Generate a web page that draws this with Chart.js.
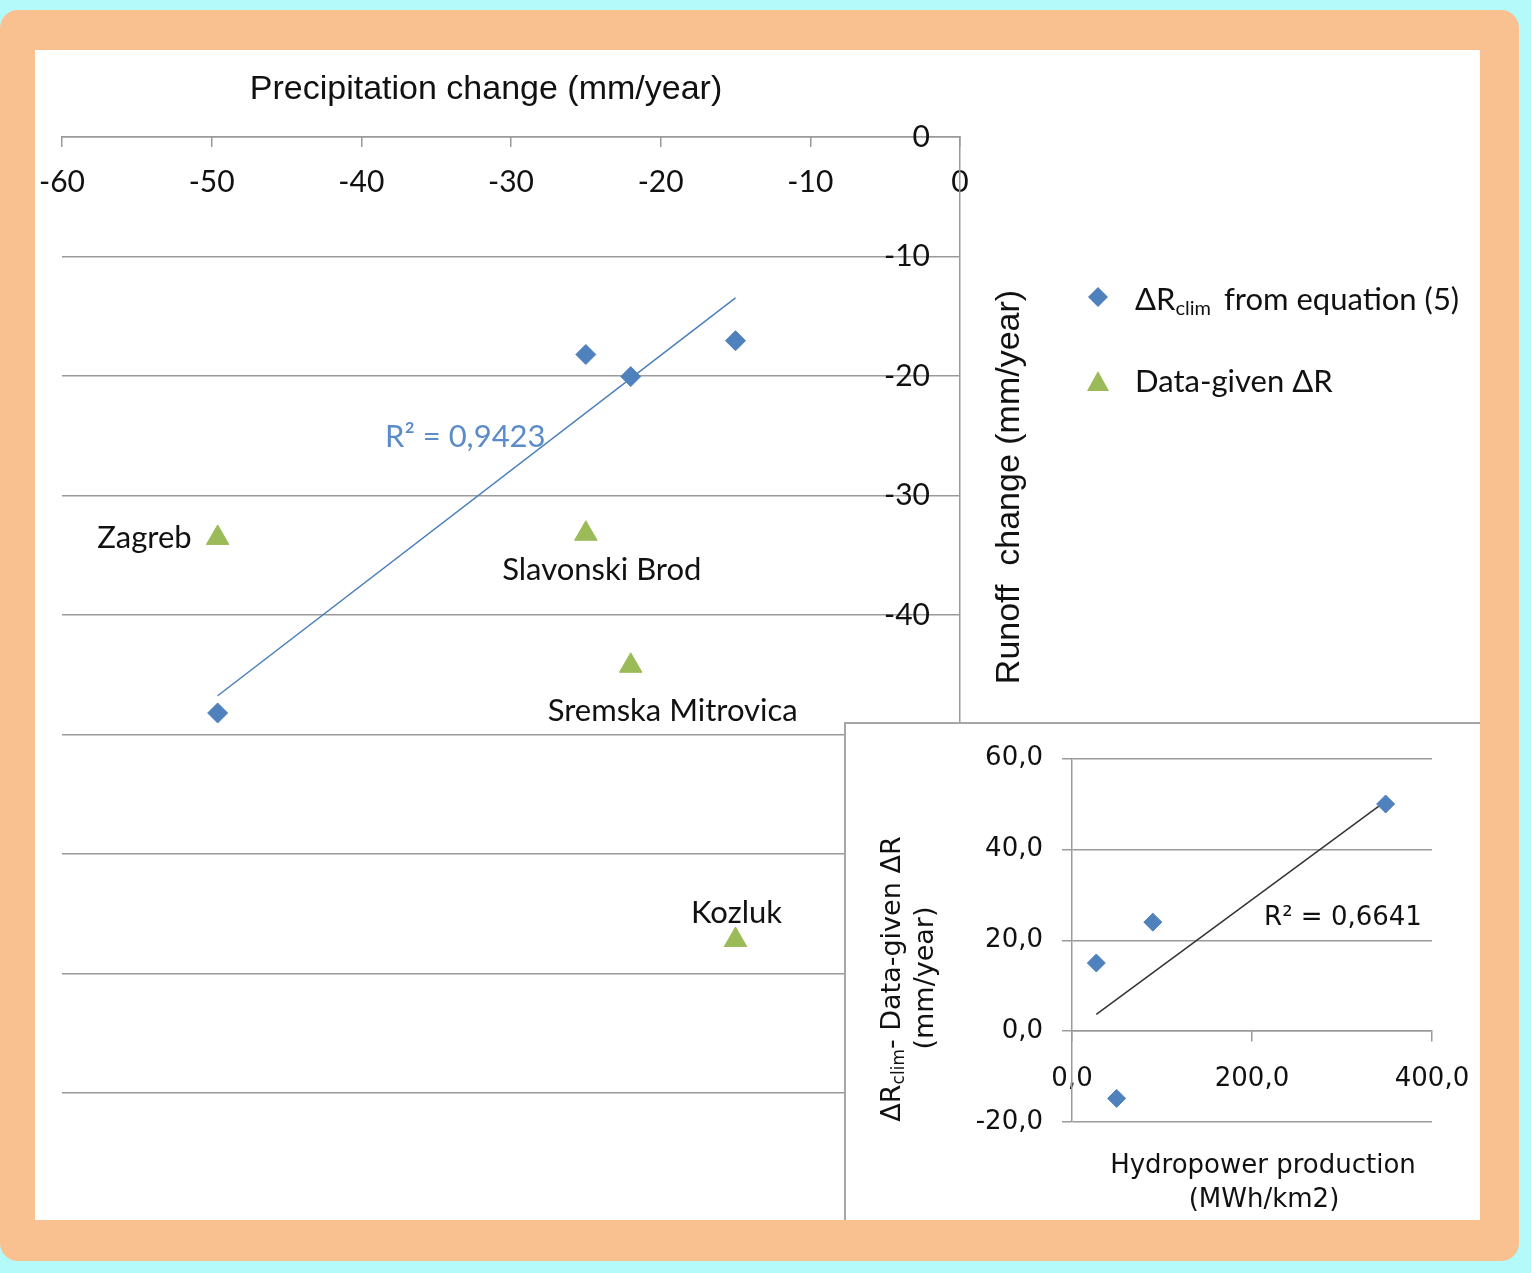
<!DOCTYPE html>
<html>
<head>
<meta charset="utf-8">
<title>Precipitation change vs runoff change</title>
<script src="https://cdn.jsdelivr.net/npm/chart.js@4.4.1/dist/chart.umd.min.js"></script>
<style>
  html, body { margin: 0; padding: 0; }
  body { width: 1531px; height: 1273px; background: #b4fafa; position: relative; overflow: hidden; }
  #frame { position: absolute; left: 0; top: 10px; width: 1519px; height: 1251px; background: #f9c190; border-radius: 18px; }
  #sheet { position: absolute; left: 35px; top: 50px; width: 1445px; height: 1170px; background: #fff; overflow: hidden; }
  #main { position: absolute; left: 0; top: 0; }
  #inset { position: absolute; left: 809px; top: 672px; width: 634px; height: 496px; background: #fff;
           border-left: 2px solid #a6a6a6; border-top: 2px solid #a6a6a6; }
  #hydro { position: absolute; left: 0; top: 0; }
</style>
</head>
<body>
<div id="frame"></div>
<div id="sheet">
  <canvas id="main" width="1445" height="1170"></canvas>
  <div id="inset"><canvas id="hydro" width="634" height="496"></canvas></div>
</div>
<script>
// stations, in the same order in every array
const cities = ['Zagreb', 'Slavonski Brod', 'Sremska Mitrovica', 'Kozluk'];
const precipChange = [-49.6, -25, -22, -15];          // mm/year
const runoffClim = [-48.2, -18.2, -20.05, -17.05];     // ΔRclim from equation (5)
const runoffData = [-33.55, -33.2, -44.25, -67.2];     // data-given ΔR

// inset: hydropower production vs ΔRclim - data-given ΔR
const hydropower = [49.6, 27.0, 89.8, 348.5];          // MWh/km2
const runoffDiff = [-14.8, 15.0, 24.0, 50.0];

const precipTicks = [-60, -50, -40, -30, -20, -10, 0];
const runoffTicks = [0, -10, -20, -30, -40, -50, -60, -70, -80];
const hydroTicks = [0, 200, 400];
const diffTicks = [-20, 0, 20, 40, 60];

const blue = '#4f81bd';
const green = '#9bbb59';
const gridGray = '#9a9a9a';
const ink = '#111111';
const calibriLike = 'Lato, "Open Sans", sans-serif';
const arialLike = '"Liberation Sans", Arial, sans-serif';
const insetFamily = '"DejaVu Sans", Verdana, sans-serif';

// least squares line over the x range of the points
function trendLine(xs, ys) {
    const n = xs.length;
    const mx = xs.reduce((a, b) => a + b, 0) / n;
    const my = ys.reduce((a, b) => a + b, 0) / n;
    let sxy = 0, sxx = 0;
    xs.forEach((x, i) => {
        sxy += (x - mx) * (ys[i] - my);
        sxx += (x - mx) * (x - mx);
    });
    const slope = sxy / sxx;
    const lo = Math.min(...xs), hi = Math.max(...xs);
    return [lo, hi].map(x => ({ x: x, y: my + slope * (x - mx) }));
}

function commaNumber(v) {
    return Number(v).toFixed(1).replace('.', ',');
}

// keep the plot area where the layout padding puts it
function noLabelPadding(s) {
    s.paddingLeft = 0;
    s.paddingRight = 0;
}

function diamond(ctx, x, y, r, color) {
    ctx.beginPath();
    ctx.moveTo(x, y - r);
    ctx.lineTo(x + r, y);
    ctx.lineTo(x, y + r);
    ctx.lineTo(x - r, y);
    ctx.closePath();
    ctx.fillStyle = color;
    ctx.fill();
}

function triangle(ctx, x, y, w, h, color) {
    ctx.beginPath();
    ctx.moveTo(x, y - h / 2);
    ctx.lineTo(x + w / 2, y + h / 2);
    ctx.lineTo(x - w / 2, y + h / 2);
    ctx.closePath();
    ctx.fillStyle = color;
    ctx.fill();
}

// where each city label sits relative to its triangle
const labelPlacement = [
    { dx: -26, dy: 0, align: 'right' },
    { dx: 16, dy: 36, align: 'center' },
    { dx: 42, dy: 45, align: 'center' },
    { dx: 1, dy: -27, align: 'center' }
];

const mainDecorations = {
    id: 'mainDecorations',
    afterDraw(chart) {
        const ctx = chart.ctx;
        const xs = chart.scales.x, ys = chart.scales.y;
        ctx.save();
        ctx.fillStyle = ink;
        ctx.textBaseline = 'middle';

        // axis titles
        ctx.font = '34px ' + arialLike;
        ctx.textAlign = 'center';
        ctx.fillText('Precipitation change (mm/year)', 451, 40);
        ctx.save();
        ctx.translate(975, 437);
        ctx.rotate(-Math.PI / 2);
        ctx.fillText('Runoff  change (mm/year)', 0, 0);
        ctx.restore();

        // city labels next to the data-given points
        ctx.font = '31px ' + calibriLike;
        cities.forEach((name, i) => {
            const p = labelPlacement[i];
            ctx.textAlign = p.align;
            ctx.fillText(name, xs.getPixelForValue(precipChange[i]) + p.dx,
                               ys.getPixelForValue(runoffData[i]) + p.dy);
        });

        // R² of the trend line
        ctx.fillStyle = '#5b8bc9';
        ctx.textAlign = 'left';
        ctx.fillText('R² = 0,9423', 350, 387);

        // legend
        diamond(ctx, 1063, 247, 10, blue);
        triangle(ctx, 1063, 331, 22, 20, green);
        ctx.fillStyle = ink;
        ctx.textBaseline = 'alphabetic';
        ctx.font = '31px ' + calibriLike;
        let tx = 1100;
        ctx.fillText('ΔR', tx, 260);
        tx += ctx.measureText('ΔR').width;
        ctx.font = '20px ' + calibriLike;
        ctx.fillText('clim', tx, 265);
        tx += ctx.measureText('clim').width + 13;
        ctx.font = '31px ' + calibriLike;
        ctx.fillText('from equation (5)', tx, 260);
        ctx.fillText('Data-given ΔR', 1100, 342);
        ctx.restore();
    }
};

const insetDecorations = {
    id: 'insetDecorations',
    afterDraw(chart) {
        const ctx = chart.ctx;
        ctx.save();
        ctx.fillStyle = ink;
        ctx.textBaseline = 'middle';
        ctx.textAlign = 'center';
        ctx.font = '26px ' + insetFamily;
        ctx.fillText('Hydropower production', 417, 442);
        ctx.fillText('(MWh/km2)', 418, 476);
        ctx.fillText('R² = 0,6641', 497, 194);

        // rotated y title, first line with subscript
        ctx.save();
        ctx.translate(47, 255);
        ctx.rotate(-Math.PI / 2);
        const big = '27px ' + insetFamily, small = '17px ' + insetFamily;
        ctx.font = big;
        const w1 = ctx.measureText('ΔR').width;
        const w3 = ctx.measureText('- Data-given ΔR').width;
        ctx.font = small;
        const w2 = ctx.measureText('clim').width;
        let tx = -(w1 + w2 + w3) / 2;
        ctx.textAlign = 'left';
        ctx.font = big;
        ctx.fillText('ΔR', tx, 0);
        tx += w1;
        ctx.font = small;
        ctx.fillText('clim', tx, 7);
        tx += w2;
        ctx.font = big;
        ctx.fillText('- Data-given ΔR', tx, 0);
        ctx.textAlign = 'center';
        ctx.fillText('(mm/year)', 1, 33);
        ctx.restore();
        ctx.restore();
    }
};

function drawCharts() {
    const mainPoints = precipChange.map((x, i) => ({ x: x, y: runoffClim[i] }));
    const dataPoints = precipChange.map((x, i) => ({ x: x, y: runoffData[i] }));

    new Chart(document.getElementById('main'), {
        type: 'scatter',
        data: {
            datasets: [
                {
                    label: 'ΔRclim from equation (5)',
                    data: mainPoints,
                    pointStyle: 'rectRot',
                    pointRadius: 10,
                    backgroundColor: blue,
                    borderColor: blue,
                    borderWidth: 1
                },
                {
                    label: 'Data-given ΔR',
                    data: dataPoints,
                    pointStyle: 'triangle',
                    pointRadius: 13,
                    backgroundColor: green,
                    borderColor: green,
                    borderWidth: 1
                },
                {
                    label: 'trend',
                    data: trendLine(precipChange, runoffClim),
                    showLine: true,
                    pointRadius: 0,
                    borderColor: '#4a7ebb',
                    borderWidth: 1.5
                }
            ]
        },
        options: {
            responsive: false,
            animation: false,
            layout: { padding: { left: 27, right: 510, top: 0, bottom: 127 } },
            plugins: { legend: { display: false }, tooltip: { enabled: false } },
            scales: {
                x: {
                    type: 'linear',
                    position: 'top',
                    min: precipTicks[0],
                    max: precipTicks[precipTicks.length - 1],
                    afterBuildTicks: s => { s.ticks = precipTicks.map(v => ({ value: v })); },
                    afterFit: s => { s.height = 87; noLabelPadding(s); },
                    ticks: { mirror: true, padding: 27, color: ink, font: { family: calibriLike, size: 30 } },
                    grid: { drawOnChartArea: false, drawTicks: true, tickLength: -10, color: gridGray, lineWidth: 1.5 },
                    border: { color: gridGray, width: 1.5 }
                },
                y: {
                    type: 'linear',
                    position: 'right',
                    min: runoffTicks[runoffTicks.length - 1],
                    max: runoffTicks[0],
                    afterBuildTicks: s => { s.ticks = runoffTicks.slice().reverse().map(v => ({ value: v })); },
                    afterFit: s => { s.width = 10; },
                    ticks: { mirror: true, padding: -30, color: ink, font: { family: calibriLike, size: 30 } },
                    grid: { drawTicks: false, color: gridGray, lineWidth: 1.5 },
                    border: { color: gridGray, width: 1.5 }
                }
            }
        },
        plugins: [mainDecorations]
    });

    new Chart(document.getElementById('hydro'), {
        type: 'scatter',
        data: {
            datasets: [
                {
                    label: 'ΔRclim - Data-given ΔR',
                    data: hydropower.map((x, i) => ({ x: x, y: runoffDiff[i] })),
                    pointStyle: 'rectRot',
                    pointRadius: 9,
                    backgroundColor: blue,
                    borderColor: blue,
                    borderWidth: 1
                },
                {
                    label: 'trend',
                    data: trendLine(hydropower, runoffDiff),
                    showLine: true,
                    pointRadius: 0,
                    borderColor: '#333333',
                    borderWidth: 1.5
                }
            ]
        },
        options: {
            responsive: false,
            animation: false,
            layout: { padding: { left: 0, right: 48, top: 33, bottom: 98 } },
            plugins: { legend: { display: false }, tooltip: { enabled: false } },
            scales: {
                x: {
                    type: 'linear',
                    position: { y: 0 },
                    min: hydroTicks[0],
                    max: hydroTicks[hydroTicks.length - 1],
                    afterBuildTicks: s => { s.ticks = hydroTicks.map(v => ({ value: v })); },
                    afterFit: s => { s.height = 0; noLabelPadding(s); },
                    ticks: { padding: 22, color: ink, font: { family: insetFamily, size: 26 }, callback: commaNumber },
                    grid: { drawOnChartArea: false, drawTicks: true, tickLength: 10, color: gridGray, lineWidth: 1.5 },
                    border: { color: gridGray, width: 1.5 }
                },
                y: {
                    type: 'linear',
                    position: 'left',
                    min: diffTicks[0],
                    max: diffTicks[diffTicks.length - 1],
                    afterBuildTicks: s => { s.ticks = diffTicks.map(v => ({ value: v })); },
                    afterFit: s => { s.width = 226; },
                    ticks: { padding: 19, color: ink, font: { family: insetFamily, size: 26 }, callback: commaNumber },
                    grid: { drawTicks: true, tickLength: 10, color: gridGray, lineWidth: 1.5 },
                    border: { color: gridGray, width: 1.5 }
                }
            }
        },
        plugins: [insetDecorations]
    });
}

Promise.all([
    document.fonts.load('30px Lato'),
    document.fonts.load('30px "Liberation Sans"'),
    document.fonts.load('26px "DejaVu Sans"')
]).then(drawCharts, drawCharts);
</script>
</body>
</html>
